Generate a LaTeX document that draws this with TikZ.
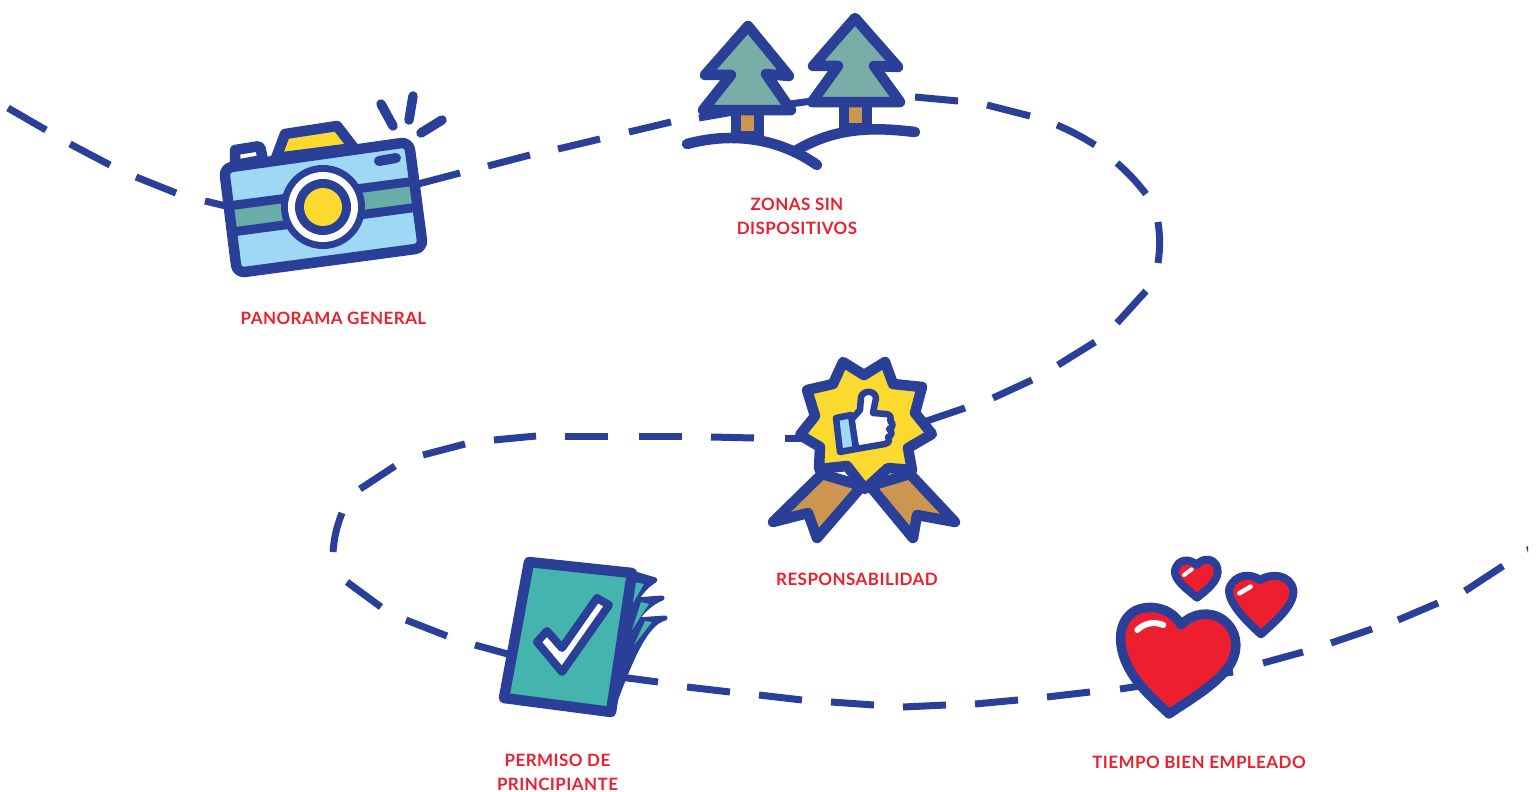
\documentclass[tikz,border=0pt]{standalone}
\usepackage{fontspec}
\setmainfont{Lato}
\definecolor{navy}{HTML}{2A3F98}
\definecolor{skyb}{HTML}{9FD8F5}
\definecolor{bandt}{HTML}{69ADA8}
\definecolor{yel}{HTML}{FBD92F}
\definecolor{treet}{HTML}{79ADA8}
\definecolor{brn}{HTML}{CD9650}
\definecolor{permt}{HTML}{45B3AE}
\definecolor{hred}{HTML}{ED1F2E}
\tikzset{
 dashseg/.style={draw=navy,line width=7pt},
 ico/.style={draw=navy,line width=10.5pt,line join=round,line cap=round},
 lab/.style={text=hred,font=\fontsize{17}{24}\selectfont\bfseries\addfontfeatures{LetterSpace=2.5},align=center,inner sep=0pt},
}
\begin{document}
\begin{tikzpicture}[x=1pt,y=-1pt]
\useasboundingbox (0,0) rectangle (1540,792);
% route dashes
\draw[dashseg] (8,108) -- (46,130);
\draw[dashseg] (70,144) -- (110,165);
\draw[dashseg] (136,177) -- (176,193);
\draw[dashseg] (205,201) -- (230,207);
\draw[dashseg] (418,184) -- (460,173);
\draw[dashseg] (488,166) -- (530,155);
\draw[dashseg] (558,149) -- (600,139);
\draw[dashseg] (629,132) -- (671,122);
\draw[dashseg] (699,118) -- (745,110);
\draw[dashseg] (915,97) -- (958,101);
\draw[dashseg] (987,105) -- (1030,116);
\draw[dashseg] (1057,125) to[bend left=4] (1095,145);
\draw[dashseg] (1117,163) to[bend left=5] (1146,194);
\draw[dashseg] (1158,222) to[bend left=8] (1158,263);
\draw[dashseg] (1146,291) -- (1117,323);
\draw[dashseg] (1095,342) -- (1058,365);
\draw[dashseg] (1032,380) -- (993,398);
\draw[dashseg] (965,408) -- (915,425);
\draw[dashseg] (810,438) -- (785,438);
\draw[dashseg] (754,438) -- (711,437);
\draw[dashseg] (682,436) -- (639,436);
\draw[dashseg] (608,436) -- (565,436);
\draw[dashseg] (536,436) -- (494,440);
\draw[dashseg] (465,444) -- (423,455);
\draw[dashseg] (395,466) -- (360,489);
\draw[dashseg] (342,513) to[bend right=8] (333,552);
\draw[dashseg] (347,582) -- (381,607);
\draw[dashseg] (406,620) -- (447,636);
\draw[dashseg] (475,645) -- (515,656);
\draw[dashseg] (620,677) -- (658,682);
\draw[dashseg] (687,687) -- (730,692);
\draw[dashseg] (759,695) -- (802,700);
\draw[dashseg] (831,702) -- (874,705);
\draw[dashseg] (903,707) -- (946,705);
\draw[dashseg] (975,704) -- (1018,700);
\draw[dashseg] (1047,697) -- (1090,692);
\draw[dashseg] (1120,689) -- (1233,672);
\draw[dashseg] (1263,663) -- (1303,652);
\draw[dashseg] (1331,643) -- (1372,629);
\draw[dashseg] (1398,620) -- (1438,603);
\draw[dashseg] (1465,591) -- (1503,566);
\fill[navy] (1526,547) -- (1528,546) -- (1528,553) -- cycle;
% camera
\draw[ico,fill=yel] (276,158) -- (285,134) -- (337,126) -- (354,148) -- cycle;
\draw[ico,fill=white] (235,165) -- (235,150) [rounded corners=2pt] -- (260,146) -- (263,160) -- cycle;
\fill[skyb,rounded corners=8pt] (224,168) -- (409,142) -- (423,248) -- (237,273) -- cycle;
\fill[bandt] (228,205) -- (418,180) -- (415,207) -- (232,232) -- cycle;
\draw[navy,line width=9pt] (228,206) -- (416,181);
\draw[navy,line width=9pt] (232,232) -- (419,207);
\draw[ico,rounded corners=8pt] (224,168) -- (409,142) -- (423,248) -- (237,273) -- cycle;
\fill[navy] (323,207) circle (42);
\fill[white] (323,207) circle (35);
\fill[navy] (323,207) circle (28);
\fill[yel] (323,207) circle (19);
\draw[navy,line width=10pt,line cap=round] (379,161) -- (396,158);
\draw[navy,line width=9.5pt,line cap=round] (381,104) -- (393,126);
\draw[navy,line width=9.5pt,line cap=round] (413,96) -- (409,120);
\draw[navy,line width=9.5pt,line cap=round] (442,120) -- (421,133);
% trees
\draw[ico,fill=brn] (736,108) rectangle (759,136);
\draw[ico,fill=brn] (844,100) rectangle (867,128);
\draw[dashseg] (790,104) -- (812,101);
\draw[ico,fill=treet] (748,26) -- (789,76) -- (766,74) -- (791,110) -- (703,110) -- (731,75) -- (705,75) -- cycle;
\draw[ico,fill=treet] (855,18) -- (898,67) -- (874,66) -- (900,102) -- (812,102) -- (838,66) -- (813,66) -- cycle;
\draw[ico] (687,144) .. controls (720,135) and (770,132) .. (817,165);
\draw[ico] (797,150) .. controls (840,125) and (880,128) .. (915,132);
% medal
\draw[ico,fill=brn] (822,474) -- (773,522) -- (808,513) -- (817,538) -- (862,486) -- cycle;
\draw[ico,fill=brn] (910,474) -- (955,522) -- (917,515) -- (913,538) -- (870,486) -- cycle;
\draw[ico,fill=yel] (843,362) -- (864,375) -- (885,362) -- (893,384) -- (922,387) -- (915,413) -- (932,434) -- (908,448) -- (912,470) -- (888,468) -- (865,489) -- (847,466) -- (819,469) -- (820,447) -- (800,435) -- (815,416) -- (807,390) -- (833,384) -- cycle;
\draw[navy,line width=6.5pt,line join=round,fill=white] (851,420) -- (860,410) -- (861,397) .. controls (863,390) and (875,390) .. (876,398) -- (873,413) -- (886,414) .. controls (890,414) and (892,418) .. (890,421) .. controls (894,423) and (893,428) .. (889,429) .. controls (893,431) and (892,436) .. (888,437) .. controls (890,440) and (889,443) .. (885,444) -- (856,449) -- cycle;
\draw[navy,line width=6.5pt,line join=round,fill=skyb] (836,418) -- (851,415) -- (856,449) -- (840,452) -- cycle;
% permit
\fill[navy,draw=navy,line width=5pt,line join=round] (632,573) -- (655,580) .. controls (645,586) and (638,596) .. (636,600) -- (662,598) .. controls (650,603) and (640,613) .. (637,620) -- (665,618) .. controls (645,623) and (630,660) .. (611,712) -- cycle;
\fill[permt] (634,582) -- (644,584) -- (633,603) -- cycle;
\fill[permt] (641,602) -- (649,604) -- (632,630) -- cycle;
\fill[permt] (645,621) -- (652,622) -- (634,645) -- cycle;
\draw[ico,fill=permt] (529,562) -- (632,573) -- (611,712) -- (504,698) -- cycle;
\draw[navy,line width=8pt,line join=round,fill=white] (537,642) -- (547,631) -- (562,648) -- (597,598) -- (609,605) -- (562,672) -- cycle;
% hearts
\begin{scope}[xshift=1100pt,yshift=-545pt,x=0.3333pt,y=-0.3333pt]
\draw[ico,line width=9.5pt,fill=hred] (243,240) .. controls (220,195) and (160,175) .. (110,195) .. controls (60,220) and (50,280) .. (75,345) .. controls (105,420) and (170,470) .. (207,507) .. controls (260,470) and (350,420) .. (390,360) .. controls (420,310) and (410,255) .. (370,225) .. controls (330,195) and (275,205) .. (243,240) -- cycle;
\draw[white,line width=6pt,line cap=round] (112,255) .. controls (135,232) and (165,230) .. (190,240);
\draw[ico,line width=8pt,fill=hred] (290,60) .. controls (270,40) and (235,40) .. (225,75) .. controls (220,105) and (265,135) .. (291,158) .. controls (320,135) and (360,105) .. (352,70) .. controls (345,40) and (310,35) .. (290,60) -- cycle;
\draw[white,line width=4pt,line cap=round] (252,90) -- (275,73);
\draw[ico,line width=8pt,fill=hred] (480,105) .. controls (455,85) and (405,85) .. (388,130) .. controls (380,170) and (440,230) .. (483,268) .. controls (525,230) and (585,180) .. (580,135) .. controls (570,85) and (510,85) .. (480,105) -- cycle;
\draw[white,line width=4.5pt,line cap=round] (418,145) -- (452,125);
\end{scope}
% labels
\node[lab] (l1) at (333.5,318.5) {PANORAMA GENERAL};
\node[lab] (l2) at (797,216.5) {ZONAS SIN\\DISPOSITIVOS};
\node[lab] (l3) at (857,579.5) {RESPONSABILIDAD};
\node[lab] (l4) at (557.5,772.5) {PERMISO DE\\PRINCIPIANTE};
\node[lab] (l5) at (1199,762.5) {TIEMPO BIEN EMPLEADO};
\end{tikzpicture}
\end{document}
